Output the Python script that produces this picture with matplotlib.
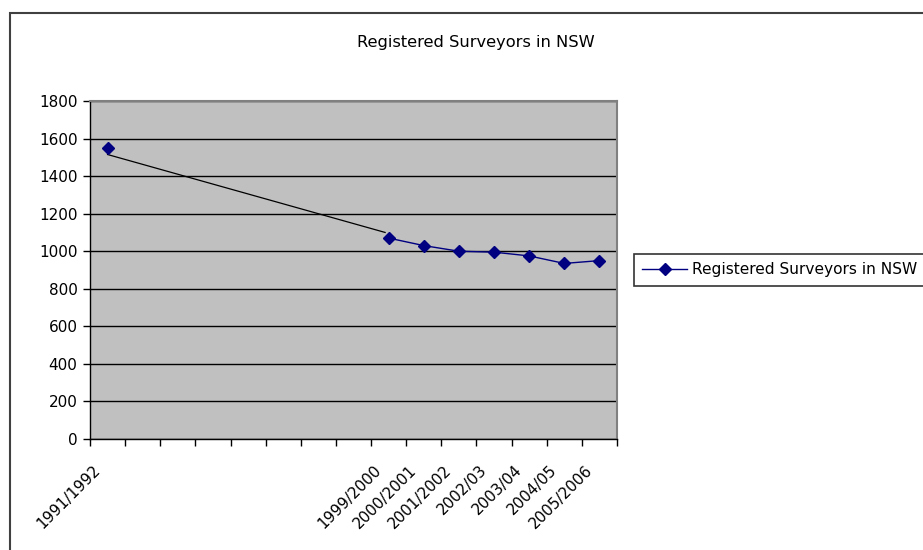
import numpy as np
import matplotlib
matplotlib.use("Agg")
import matplotlib.pyplot as plt
import matplotlib.transforms as mtransforms
from matplotlib.patches import Rectangle
from matplotlib.lines import Line2D

plt.rcParams['font.family'] = ['DejaVu Sans']

# ---- data ----
categories = ["1991/1992", "", "", "", "", "", "", "",
              "1999/2000", "2000/2001", "2001/2002", "2002/03",
              "2003/04", "2004/05", "2005/2006"]
surveyors = [1550, np.nan, np.nan, np.nan, np.nan, np.nan, np.nan, np.nan,
             1070, 1030, 1000, 995, 975, 935, 950]
series_name = "Registered Surveyors in NSW"
title = "Registered Surveyors in NSW"
y_ticks = [0, 200, 400, 600, 800, 1000, 1200, 1400, 1600, 1800]
# hand-drawn connector across the gap in the data
gap_line_x = [0, 7.9]
gap_line_y = [1515, 1100]

W, H = 923, 550
fig = plt.figure(figsize=(W / 100, H / 100), dpi=100)
fig.patch.set_facecolor("white")

ax = fig.add_axes([90 / W, 1 - 439 / H, (617 - 90) / W, (439 - 101) / H])
ax.set_facecolor("#C0C0C0")

x = np.arange(len(categories))
ax.plot(gap_line_x, gap_line_y, color="black", lw=0.9, zorder=3)
ax.plot(x, surveyors, color="#000080", lw=1.0, marker="D", markersize=6.5,
        markerfacecolor="#000080", markeredgecolor="#000080", zorder=4)

ax.set_xlim(-0.5, len(categories) - 0.5)
ax.set_ylim(0, 1800)
ax.set_yticks(y_ticks)
ax.set_yticklabels([str(v) for v in y_ticks], fontsize=11)
ax.yaxis.grid(True, color="black", lw=1.0)
ax.set_axisbelow(True)

ax.set_xticks(np.arange(-0.5, len(categories), 1.0))
ax.set_xticklabels([])
ax.set_xticks(x, minor=True)
ax.set_xticklabels(categories, minor=True, rotation=45, ha="right",
                   rotation_mode="anchor", fontsize=11)
ax.tick_params(axis="x", which="minor", length=0, pad=17)
ax.tick_params(axis="x", which="major", length=5, width=1, direction="out", color="black")
ax.tick_params(axis="y", length=5, width=1, direction="out", color="black", pad=4)
shift = mtransforms.ScaledTranslation(-15 / 100, 0, fig.dpi_scale_trans)
for lab in ax.get_xticklabels(minor=True):
    lab.set_transform(lab.get_transform() + shift)

for s in ["left", "bottom"]:
    ax.spines[s].set_color("black")
    ax.spines[s].set_linewidth(1.0)
for s in ["right", "top"]:
    ax.spines[s].set_color("#808080")
    ax.spines[s].set_linewidth(1.5)

fig.text(476 / W, 1 - 43 / H, title, ha="center", va="center", fontsize=11.7)

# outer chart border
fig.add_artist(Rectangle((10 / W, -0.2), 1.5, 1.2 - 13 / H, transform=fig.transFigure,
                         fill=False, edgecolor="#404040", lw=1.5))

handle = Line2D([], [], color="#000080", lw=1.0, marker="D", markersize=6,
                markerfacecolor="#000080", markeredgecolor="#000080")
leg = fig.legend([handle], [series_name], loc="upper left",
                 bbox_to_anchor=(634 / W, 1 - 254 / H), fontsize=11.1,
                 frameon=True, fancybox=False, borderpad=0.55,
                 handlelength=2.9, handletextpad=0.3, borderaxespad=0)
leg.get_frame().set_edgecolor("black")
leg.get_frame().set_linewidth(1.2)

fig.savefig("out.png", dpi=100)
